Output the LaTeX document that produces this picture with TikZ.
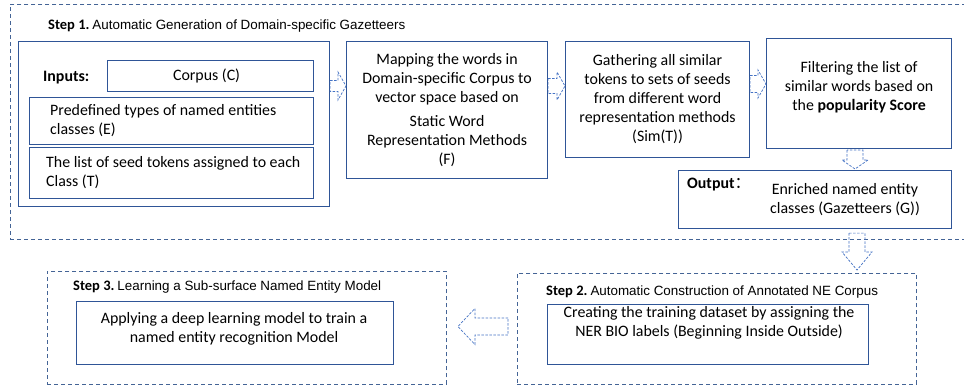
\documentclass[tikz,border=0pt]{standalone}
\usepackage{fontspec}
\setmainfont{Carlito}
\newfontfamily\arialf{Liberation Sans}
\newfontfamily\cjk{Noto Sans CJK SC}
\usetikzlibrary{calc}
\definecolor{boxblue}{RGB}{47,85,151}
\definecolor{dashblue}{RGB}{68,100,150}
\definecolor{arrblue}{RGB}{68,114,196}
\newcommand\bdyfont{\fontsize{15.9}{19}\selectfont}
\newcommand\stpfont{\fontsize{14.5}{17}\selectfont\bfseries}
\newcommand\ttlfont{\arialf\fontsize{13.4}{16}\selectfont}
\tikzset{
  bx/.style n args={4}{anchor=north west, at={(#1,#2)}, minimum width={#3-#1}, minimum height={#4-#2}},
  blbox/.style={draw=boxblue, line width=1.1pt, inner sep=0pt},
  stepframe/.style={draw=dashblue, line width=0.9pt, dash pattern=on 4pt off 3pt, inner sep=0pt},
  blockarrow/.style={draw=arrblue, line width=0.7pt, dash pattern=on 2.5pt off 1.5pt, line join=miter},
  steptitle/.style={inner sep=0pt, anchor=base west},
  body/.style={inner sep=0pt, font=\bdyfont, align=center, text=black},
  bodyl/.style={inner sep=0pt, font=\bdyfont, align=left, anchor=west, text=black},
}
% right arrow: from, to, y, shaft half, head half, head length
\newcommand\rarrow[6]{%
  \draw[blockarrow] let \p1=(#1.east), \p2=(#2.west), \p3=(0,#3) in
    (\x1,\y3+#4pt) -- (\x2-#6pt,\y3+#4pt) -- (\x2-#6pt,\y3+#5pt) -- (\x2,\y3)
    -- (\x2-#6pt,\y3-#5pt) -- (\x2-#6pt,\y3-#4pt) -- (\x1,\y3-#4pt) -- cycle;}
% down arrow: from, to, x, shaft half, head half, head length, tail gap, tip gap
\newcommand\darrow[8]{%
  \draw[blockarrow] let \p1=(#1.south), \p2=(#2.north), \p3=(#3,0) in
    (\x3-#4pt,\y1-#7pt) -- (\x3-#4pt,\y2+#8pt+#6pt) -- (\x3-#5pt,\y2+#8pt+#6pt) -- (\x3,\y2+#8pt)
    -- (\x3+#5pt,\y2+#8pt+#6pt) -- (\x3+#4pt,\y2+#8pt+#6pt) -- (\x3+#4pt,\y1-#7pt) -- cycle;}
% left arrow: from, to, y, shaft half, head half, head length, tail gap, tip gap
\newcommand\larrow[8]{%
  \draw[blockarrow] let \p1=(#1.west), \p2=(#2.east), \p3=(0,#3) in
    (\x1-#7pt,\y3+#4pt) -- (\x2+#8pt+#6pt,\y3+#4pt) -- (\x2+#8pt+#6pt,\y3+#5pt) -- (\x2+#8pt,\y3)
    -- (\x2+#8pt+#6pt,\y3-#5pt) -- (\x2+#8pt+#6pt,\y3-#4pt) -- (\x1-#7pt,\y3-#4pt) -- cycle;}
\begin{document}
\begin{tikzpicture}[x=1pt,y=-1pt]
\useasboundingbox[fill=white] (0,0) rectangle (964,385);

% ---------- Step 1 ----------
\node[stepframe, bx={10}{4}{990}{239}] (stepone) {};
\node[steptitle] (steponetitle) at (48,30) {{\stpfont Step 1.} \ttlfont Automatic Generation of Domain-specific Gazetteers};

\node[blbox, bx={18}{41}{329}{206}] (inputs) {};
\node[steptitle, font=\bdyfont\bfseries] (inputslabel) at (43,82) {Inputs:};
\node[blbox, bx={107}{60}{313}{91}] (corpus) {};
\node[body] (corpustext) at ($(corpus.center)+(-4,0)$) {Corpus (C)};
\node[blbox, bx={29}{97}{313}{144}] (predef) {};
\node[bodyl] (predeftext) at ($(predef.west)+(21,0)$) {Predefined types of named entities\\classes (E)};
\node[blbox, bx={29}{147}{313}{198}] (seeds) {};
\node[bodyl] (seedstext) at ($(seeds.west)+(17,0)$) {The list of seed tokens assigned to each\\Class (T)};

\node[blbox, bx={346}{41}{547}{178}] (mapping) {};
\node[body] (mappingtext) at (mapping.center) {Mapping the words in\\Domain-specific Corpus to\\vector space based on\\[5pt]Static Word\\Representation Methods\\(F)};

\node[blbox, bx={565}{41}{749}{157}] (gather) {};
\node[body] (gathertext) at (gather.center) {Gathering all similar\\tokens to sets of seeds\\from different word\\representation methods\\(Sim(T))};

\node[blbox, bx={766}{38}{951}{148}] (filter) {};
\node[body] (filtertext) at ($(filter.center)+(0,-6)$) {Filtering the list of\\similar words based on\\the \textbf{popularity Score}};

\node[blbox, bx={678}{170}{951}{228}] (output) {};
\node[steptitle, font=\bdyfont] (outputlabel) at (687,189) {\textbf{Output}{\cjk ：}};
\node[body] (outputtext) at (845,200) {Enriched named entity\\classes (Gazetteers (G))};

\rarrow{inputs}{mapping}{86}{5.5}{14}{8}
\rarrow{mapping}{gather}{86}{7.5}{14}{8}
\rarrow{gather}{filter}{84}{8.5}{14}{8}
\darrow{filter}{output}{855}{8}{13}{9}{1}{1}

% ---------- Step 2 ----------
\node[stepframe, bx={517}{273}{916}{384}] (steptwo) {};
\node[steptitle] (steptwotitle) at (546,295) {{\stpfont Step 2.} \ttlfont Automatic Construction of Annotated NE Corpus};
\node[blbox, bx={547}{304}{868}{364}] (create) {};
\node[body] (createtext) at ($(create.center)+(1,-12)$) {Creating the training dataset by assigning the\\NER BIO labels (Beginning Inside Outside)};

\darrow{output}{steptwo}{857}{8}{15}{18}{4}{3}

% ---------- Step 3 ----------
\node[stepframe, bx={47}{271}{446}{384}] (stepthree) {};
\node[steptitle] (stepthreetitle) at (73,290) {{\stpfont Step 3.} \ttlfont Learning a Sub-surface Named Entity Model};
\node[blbox, bx={76}{301}{393}{364}] (apply) {};
\node[body] (applytext) at ($(apply.center)+(-1,-4)$) {Applying a deep learning model to train a\\named entity recognition Model};

\larrow{steptwo}{stepthree}{326.5}{8.5}{18}{17}{9}{11}
\end{tikzpicture}
\end{document}
